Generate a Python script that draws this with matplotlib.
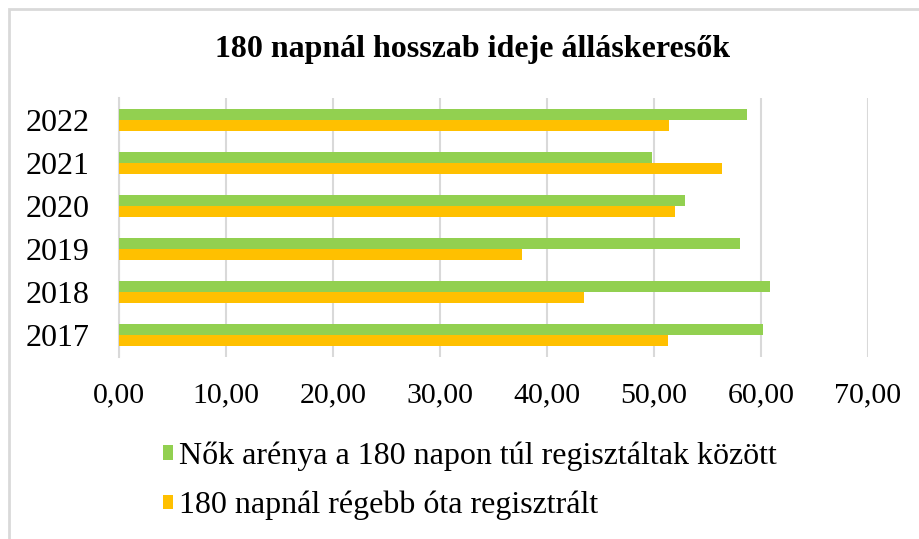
import numpy as np
import matplotlib.pyplot as plt
from matplotlib.patches import Rectangle

years = ["2017", "2018", "2019", "2020", "2021", "2022"]
nok_aranya = [60.2, 60.8, 58.0, 52.9, 49.8, 58.7]
regebb_ota = [51.3, 43.5, 37.7, 52.0, 56.4, 51.4]
xticks = [0, 10, 20, 30, 40, 50, 60, 70]

green = "#92D050"
orange = "#FFC000"

plt.rcParams['font.family'] = ['Liberation Serif', 'DejaVu Serif']

fig = plt.figure(figsize=(9.2, 5.39), dpi=100)
ax = fig.add_axes([119 / 920, 1 - 357 / 539, (868 - 119) / 920, (357 - 98) / 539])

y = np.arange(len(years))
h = 0.255
ax.barh(y + h / 2, nok_aranya, height=h, color=green,
        label="Nők arénya a 180 napon túl regisztáltak között", zorder=3)
ax.barh(y - h / 2, regebb_ota, height=h, color=orange,
        label="180 napnál régebb óta regisztrált", zorder=3)

ax.set_xlim(0, 70)
ax.set_ylim(-0.5, len(years) - 0.5)
ax.set_yticks(y)
ax.set_yticklabels(years, fontsize=23)
ax.set_xticks(xticks)
ax.set_xticklabels([f"{v:.2f}".replace(".", ",") for v in xticks], fontsize=21.5)
ax.grid(axis="x", color="#d9d9d9", linewidth=1.5, zorder=0)
for s in ["top", "right", "bottom"]:
    ax.spines[s].set_visible(False)
ax.spines["left"].set_color("#d9d9d9")
ax.spines["left"].set_linewidth(1.5)
ax.tick_params(axis="y", length=0, pad=21)
ax.tick_params(axis="x", length=0, pad=18)

fig.text(473 / 920, 1 - 50 / 539, "180 napnál hosszab ideje álláskeresők",
         ha="center", va="center", fontsize=23, fontweight="bold")

handles, labels = ax.get_legend_handles_labels()
fig.legend(handles, labels, loc="center left", bbox_to_anchor=(150 / 920, 1 - 481 / 539),
           frameon=False, fontsize=23, handlelength=0.32, handleheight=0.32,
           handletextpad=0.18, labelspacing=0.62, borderaxespad=0)

fig.patches.append(Rectangle((9 / 920, -0.1), 1.2, 1 - 9 / 539 + 0.1,
                             transform=fig.transFigure, fill=False,
                             edgecolor="#d9d9d9", linewidth=2))

fig.savefig("out.png", dpi=100)
